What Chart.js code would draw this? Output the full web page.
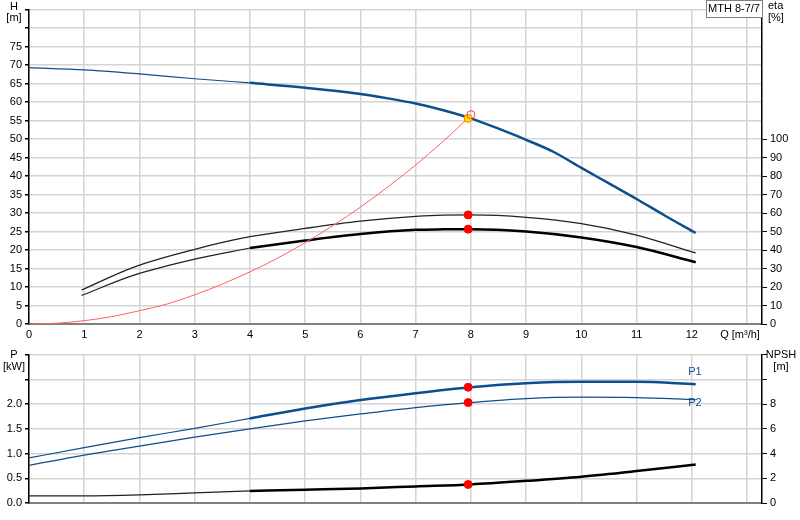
<!DOCTYPE html>
<html>
<head>
<meta charset="utf-8">
<script src="https://cdn.jsdelivr.net/npm/chart.js@4"></script>
<style>
  body { margin: 0; background: #fff; }
  #wrap { position: relative; width: 800px; height: 520px; }
  canvas { position: absolute; left: 0; }
  #top { top: 0; }
  #bottom { top: 345px; }
</style>
</head>
<body>
<div id="wrap">
  <canvas id="top" width="800" height="345"></canvas>
  <canvas id="bottom" width="800" height="175"></canvas>
</div>
<script>
// === DADOS ===
const qH = [0, 1, 2, 3, 4, 5, 6, 6.5, 7, 7.5, 8, 8.5, 9, 9.5, 10, 10.5, 11, 11.5, 12.07];
const headH = [69.3, 68.7, 67.6, 66.3, 65.2, 63.9, 62.2, 61.0, 59.6, 57.8, 55.6, 52.8, 49.8, 46.5, 42.2, 38.0, 33.8, 29.4, 24.6];

const qSys = [0, 0.5, 1, 1.5, 2, 2.5, 3, 3.5, 4, 4.5, 5, 5.5, 6, 6.5, 7, 7.5, 8];
const sysH = [0, 0.2, 0.9, 2.0, 3.6, 5.4, 7.9, 10.8, 14.1, 17.8, 22.0, 26.6, 31.6, 37.1, 43.0, 49.4, 56.4];

const qEta = [0.95, 1.9, 3, 4, 5, 6, 7, 7.5, 8, 9, 10, 11, 12.07];
const eta1 = [18.4, 30.8, 40.4, 47.2, 51.7, 55.6, 58.2, 58.9, 59.0, 57.7, 54.3, 48.1, 38.4];
const eta2 = [15.4, 26.4, 35.1, 41.1, 45.1, 48.6, 50.9, 51.2, 51.3, 50.0, 46.8, 41.6, 33.4];

const qP = [0, 1, 2, 3, 4, 5, 6, 7, 8, 9, 10, 11, 12.07];
const p1 = [0.91, 1.12, 1.32, 1.51, 1.71, 1.91, 2.08, 2.22, 2.34, 2.42, 2.45, 2.45, 2.40];
const p2 = [0.76, 0.97, 1.15, 1.33, 1.50, 1.66, 1.80, 1.93, 2.03, 2.11, 2.14, 2.13, 2.09];
const npsh = [0.58, 0.58, 0.66, 0.82, 0.98, 1.08, 1.18, 1.34, 1.50, 1.79, 2.13, 2.58, 3.11];

// ponto de trabalho
const dutyQ = 7.95;
const dutyH = 55.6;
const dutyEta = [59.0, 51.3];
const dutyP = [2.34, 2.03];
const dutyNpsh = 1.5;
const sysEnd = { q: 8.0, h: 56.6 };

const BLUE = '#0d4e8e';
const GRID = '#d4d4d4';
const Q_MAX = 13.27;

Chart.defaults.font.family = "'Liberation Sans', Arial, sans-serif";
Chart.defaults.font.size = 11;
Chart.defaults.color = '#000';
Chart.defaults.animation = false;

function pts(qs, vs, from = 0, to = qs.length - 1) {
  const out = [];
  for (let i = from; i <= to; i++) out.push({ x: qs[i], y: vs[i] });
  return out;
}

function linha(data, color, width, axis) {
  return {
    data, borderColor: color, borderWidth: width, pointRadius: 0,
    cubicInterpolationMode: 'monotone', fill: false, yAxisID: axis || 'y'
  };
}

function ponto(x, y, axis, fill, border, r) {
  return {
    data: [{ x, y }], yAxisID: axis || 'y', showLine: false,
    pointRadius: r || 4, pointBackgroundColor: fill, pointBorderColor: border,
    pointBorderWidth: 1
  };
}

// === TEXTOS ===
const textos = {
  id: 'textos',
  afterDraw(chart, args, opts) {
    const c = chart.ctx;
    c.save();
    c.font = "11px 'Liberation Sans', Arial, sans-serif";
    c.textBaseline = 'middle';
    (opts.box || []).forEach(b => {
      c.fillStyle = '#fff';
      c.fillRect(b.x, b.y, b.w, b.h);
      c.strokeStyle = '#808080';
      c.lineWidth = 1;
      c.strokeRect(b.x + 0.5, b.y + 0.5, b.w, b.h);
    });
    (opts.items || []).forEach(t => {
      c.fillStyle = t.color || '#000';
      c.textAlign = t.align || 'center';
      c.fillText(t.t, t.x, t.y);
    });
    c.restore();
  }
};

function eixoX(height, showLabels) {
  return {
    type: 'linear', min: 0, max: Q_MAX,
    afterFit: s => { s.height = height; },
    ticks: {
      display: showLabels, stepSize: 1, includeBounds: false, padding: 4,
      callback: v => (v === 13 ? '' : v)
    },
    grid: { color: GRID, lineWidth: 1.5, drawTicks: false },
    border: { color: '#808080', width: 2 }
  };
}

// === GRÁFICO SUPERIOR ===
new Chart(document.getElementById('top'), {
  type: 'line',
  data: {
    datasets: [
      ponto(sysEnd.q, sysEnd.h, 'y', 'rgba(0,0,0,0)', '#ff4040', 4),
      ponto(dutyQ, dutyH, 'y', '#ffe000', '#ff8000', 4),
      ponto(dutyQ, dutyEta[0], 'y2', '#ff0000', '#ff0000', 4),
      ponto(dutyQ, dutyEta[1], 'y2', '#ff0000', '#ff0000', 4),
      linha(pts(qH, headH, 0, 4), BLUE, 1.2),
      linha(pts(qH, headH, 4), BLUE, 2.5),
      linha(pts(qSys, sysH), '#ff6060', 1),
      linha(pts(qEta, eta1), '#222', 1.3, 'y2'),
      linha(pts(qEta, eta2, 0, 3), '#222', 1.2, 'y2'),
      linha(pts(qEta, eta2, 3), '#000', 2.5, 'y2')
    ]
  },
  options: {
    responsive: false,
    layout: { padding: { top: 1, left: 0, right: 0, bottom: 0 } },
    plugins: {
      legend: { display: false },
      tooltip: { enabled: false },
      textos: {
        box: [{ x: 706, y: 0, w: 56, h: 17 }],
        items: [
          { t: 'MTH 8-7/7', x: 734, y: 9 },
          { t: 'H', x: 14, y: 7 },
          { t: '[m]', x: 14, y: 18 },
          { t: 'eta', x: 768, y: 6, align: 'left' },
          { t: '[%]', x: 768, y: 18, align: 'left' },
          { t: 'Q [m³/h]', x: 740, y: 335 }
        ]
      }
    },
    scales: {
      x: eixoX(21, true),
      y: {
        min: 0, max: 85,
        afterFit: s => { s.width = 29; },
        ticks: { stepSize: 5, padding: 3, callback: v => (v > 75 ? '' : v) },
        grid: { color: GRID, lineWidth: 1.5, tickLength: 4, tickColor: '#000' },
        border: { color: '#000', width: 1.5 }
      },
      y2: {
        position: 'right', min: 0, max: 170,
        afterFit: s => { s.width = 38; },
        ticks: { stepSize: 10, padding: 3, callback: v => (v > 100 ? '' : v) },
        grid: {
          drawOnChartArea: false, tickLength: 5,
          tickColor: c => (c.tick && c.tick.value > 100 ? 'rgba(0,0,0,0)' : '#000')
        },
        border: { color: '#000', width: 1.5 }
      }
    }
  },
  plugins: [textos]
});

// === GRÁFICO INFERIOR ===
new Chart(document.getElementById('bottom'), {
  type: 'line',
  data: {
    datasets: [
      ponto(dutyQ, dutyP[0], 'y', '#ff0000', '#ff0000', 4),
      ponto(dutyQ, dutyP[1], 'y', '#ff0000', '#ff0000', 4),
      ponto(dutyQ, dutyNpsh, 'y2', '#ff0000', '#ff0000', 4),
      linha(pts(qP, p1, 0, 4), BLUE, 1.2),
      linha(pts(qP, p1, 4), BLUE, 2.5),
      linha(pts(qP, p2), BLUE, 1.3),
      linha(pts(qP, npsh, 0, 4), '#222', 1.2, 'y2'),
      linha(pts(qP, npsh, 4), '#000', 2.5, 'y2')
    ]
  },
  options: {
    responsive: false,
    layout: { padding: { top: 5, left: 0, right: 0, bottom: 0 } },
    plugins: {
      legend: { display: false },
      tooltip: { enabled: false },
      textos: {
        items: [
          { t: 'P', x: 14, y: 10 },
          { t: '[kW]', x: 14, y: 22 },
          { t: 'NPSH', x: 781, y: 10 },
          { t: '[m]', x: 781, y: 22 },
          { t: 'P1', x: 695, y: 27, color: BLUE },
          { t: 'P2', x: 695, y: 58, color: BLUE }
        ]
      }
    },
    scales: {
      x: eixoX(17, false),
      y: {
        min: 0, max: 3,
        afterFit: s => { s.width = 29; },
        ticks: { stepSize: 0.5, padding: 3, callback: v => (v > 2.01 ? '' : v.toFixed(1)) },
        grid: { color: GRID, lineWidth: 1.5, tickLength: 4, tickColor: '#000' },
        border: { color: '#000', width: 1.5 }
      },
      y2: {
        position: 'right', min: 0, max: 12,
        afterFit: s => { s.width = 38; },
        ticks: { stepSize: 2, padding: 3, callback: v => (v > 8 ? '' : v) },
        grid: { drawOnChartArea: false, tickLength: 5, tickColor: '#000' },
        border: { color: '#000', width: 1.5 }
      }
    }
  },
  plugins: [textos]
});
</script>
</body>
</html>
